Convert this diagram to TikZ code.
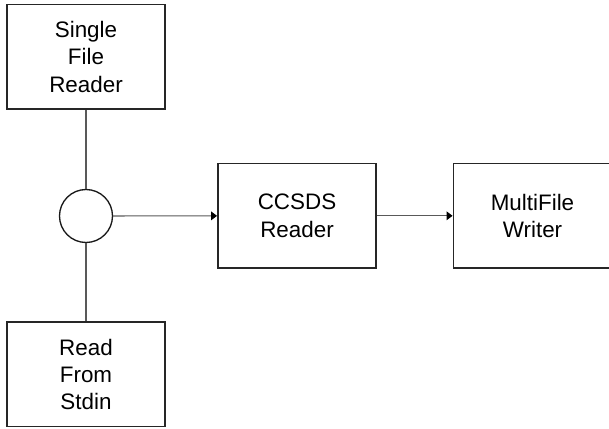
\documentclass[tikz,border=0pt]{standalone}
\usepackage{fontspec}
\setmainfont{Liberation Sans}
\usetikzlibrary{arrows.meta}
\begin{document}
\begin{tikzpicture}[x=0.75pt,y=-0.75pt,
  block/.style={draw=black!85, line width=1.1pt, rectangle,
    minimum width=118.8pt, minimum height=78.4pt, inner sep=0pt,
    align=center, font=\fontsize{16.8}{20.4}\selectfont},
  junction/.style={draw=black!90, line width=1pt, circle,
    minimum size=39.75pt, inner sep=0pt},
  link/.style={draw=black!65, line width=0.8pt},
  flow/.style={link, -{Triangle[length=4.5pt,width=6.5pt,color=black]}}]
\useasboundingbox (0,0) rectangle (609,428);
% source blocks
\node[block] (single) at (86,56.8) {Single\\File\\Reader};
\node[block] (stdin) at (86,374.2) {Read\\From\\Stdin};
% merge point of the two sources
\node[junction] (join) at (86,216) {};
% processing chain
\node[block] (ccsds) at (297,215.8) {CCSDS\\Reader};
\node[block] (multi) at (532.5,215.8) {MultiFile\\Writer};
% connectors
\draw[link] (single) -- (join);
\draw[link] (join) -- (stdin);
\draw[flow] (join) -- (ccsds);
\draw[flow] (ccsds) -- (multi);
\end{tikzpicture}
\end{document}
